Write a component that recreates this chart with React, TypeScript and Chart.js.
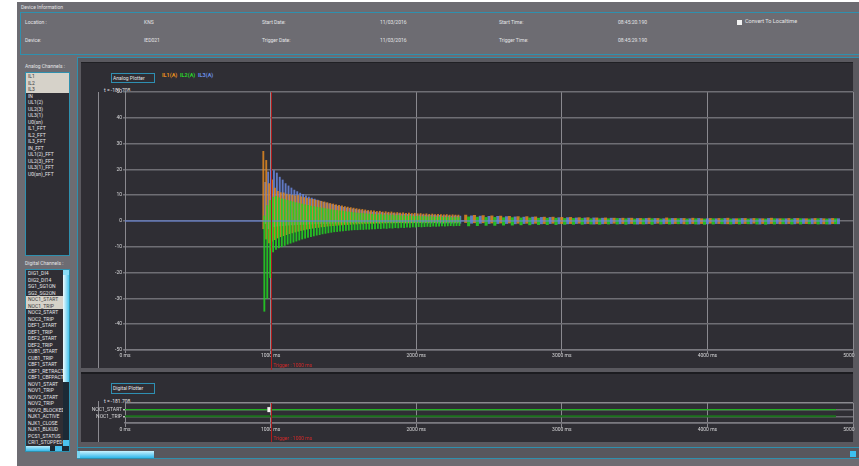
import React, { useEffect, useRef } from 'react';
import { Chart, registerables } from 'chart.js';

Chart.register(...registerables);

// ---------------- data ----------------
const ANALOG_CHANNELS = ['IL1', 'IL2', 'IL3', 'IN', 'UL1(2)', 'UL2(3)', 'UL3(1)', 'U0(sn)', 'IL1_FFT', 'IL2_FFT', 'IL3_FFT', 'IN_FFT', 'UL1(2)_FFT', 'UL2(3)_FFT', 'UL3(1)_FFT', 'U0(sn)_FFT'];
const SELECTED_ANALOG = ['IL1', 'IL2', 'IL3'];
const DIGITAL_CHANNELS = ['DIG1_DI4', 'DIG2_DI14', 'SG1_SG1ON', 'SG2_SG2ON', 'NOC1_START', 'NOC1_TRIP', 'NOC2_START', 'NOC2_TRIP', 'DEF1_START', 'DEF1_TRIP', 'DEF2_START', 'DEF2_TRIP', 'CUB1_START', 'CUB1_TRIP', 'CBF1_START', 'CBF1_RETRACT', 'CBF1_CBFPACT', 'NOV1_START', 'NOV1_TRIP', 'NOV2_START', 'NOV2_TRIP', 'NOV2_BLOCKED', 'NJK1_ACTIVE', 'NJK1_CLOSE', 'NJK1_BLKUD', 'PCS1_STATUS', 'CRI1_STOPPED'];
const SELECTED_DIGITAL = ['NOC1_START', 'NOC1_TRIP'];

const INFO_ROW1_LABELS = ['Location :', 'Start Date:', 'Start Time:'];
const INFO_ROW1_VALUES = ['KNS', '11/03/2016', '08:45:20.190'];
const INFO_ROW2_LABELS = ['Device:', 'Trigger Date:', 'Trigger Time:'];
const INFO_ROW2_VALUES = ['IED021', '11/03/2016', '08:45:29.190'];

const SERIES_NAMES = ['IL1(A)', 'IL2(A)', 'IL3(A)'];
const X_TICKS_MS = [0, 1000, 2000, 3000, 4000, 5000];
const Y_TICKS = [-50, -40, -30, -20, -10, 0, 10, 20, 30, 40, 50];
const TRIGGER_MS = 1000;
const RECORD_END_MS = 4883;
const CURSOR_LABEL = 't = -181.708';

// sampling grid of the per-cycle peak envelope (min..max)
const EARLY_START_MS = 950;
const EARLY_STEP_MS = 20;
const TAIL_START_MS = 2340;
const TAIL_STEP_MS = 60;
const EARLY_OFFSETS_MS = [0, 7, 13];
const TAIL_OFFSETS_MS = [0, 20, 40];

// 950 .. 2290 ms, every 20 ms
const IL1_EARLY_HI = [27, 23.5, 14.5, 16, 12.8, 11.5, 11.0, 10.9, 10.4, 10.2, 10.0, 9.8, 9.9, 9.4, 9.1, 8.9, 8.6, 8.4, 8.1, 7.9, 7.6, 7.4, 7.1, 6.8, 6.6, 6.3, 6.1, 5.9, 5.6, 5.4, 5.2, 5.0, 4.8, 4.6, 4.5, 4.3, 4.1, 4.0,
  3.9, 3.7, 3.8, 3.5, 3.6, 3.4, 3.5, 3.2, 3.3, 3.1, 3.2, 3.0, 3.1, 2.9, 3.0, 2.8, 2.9, 2.7, 2.8, 2.6, 2.7, 2.5, 2.6, 2.5, 2.4, 2.5, 2.3, 2.4, 2.3, 2.3];
const IL1_EARLY_LO = [-3, -7, -8.5, -7.8, -7.2, -6.6, -6.1, -5.7, -5.3, -4.9, -4.6, -4.3, -4.0, -3.7, -3.5, -3.2, -3.0, -2.8, -2.6, -2.5, -2.3, -2.2, -2.0, -1.9, -1.8, -1.7, -1.6, -1.5, -1.4, -1.4, -1.3, -1.2, -1.2, -1.1, -1.1, -1.0, -1.0, -0.9,
  -0.9, -0.8, -0.9, -0.8, -0.8, -0.7, -0.8, -0.7, -0.7, -0.7, -0.6, -0.7, -0.6, -0.7, -0.6, -0.6, -0.6, -0.5, -0.6, -0.6, -0.5, -0.6, -0.5, -0.5, -0.6, -0.5, -0.5, -0.5, -0.6, -0.5];
const IL2_EARLY_HI = [2, 6, 8, 9.2, 9.6, 9.0, 8.6, 8.3, 8.0, 7.7, 7.4, 7.1, 6.8, 6.6, 6.3, 6.1, 5.8, 5.6, 5.4, 5.2, 5.0, 4.8, 4.6, 4.4, 4.2, 4.1, 3.9, 3.8, 3.6, 3.5, 3.4, 3.2, 3.1, 3.0, 2.9, 2.8, 2.7, 2.6,
  2.5, 2.4, 2.5, 2.3, 2.4, 2.2, 2.3, 2.1, 2.2, 2.0, 2.1, 1.9, 2.0, 1.9, 1.8, 1.9, 1.7, 1.8, 1.6, 1.7, 1.6, 1.5, 1.6, 1.5, 1.4, 1.5, 1.4, 1.3, 1.4, 1.3];
const IL2_EARLY_LO = [-35, -30, -22, -12, -11, -10.4, -10.0, -9.5, -9.0, -8.6, -8.2, -7.8, -7.4, -7.0, -6.7, -6.4, -6.1, -5.8, -5.5, -5.3, -5.0, -4.8, -4.6, -4.4, -4.2, -4.1, -3.9, -3.8, -3.7, -3.6, -3.5, -3.4, -3.4, -3.3, -3.3, -3.2, -3.2, -3.1,
  -3.1, -2.9, -3.0, -2.8, -2.9, -2.7, -2.8, -2.6, -2.7, -2.5, -2.6, -2.4, -2.5, -2.3, -2.4, -2.2, -2.3, -2.2, -2.1, -2.2, -2.0, -2.1, -2.0, -1.9, -2.0, -1.9, -1.8, -1.9, -1.8, -1.8];
const IL3_EARLY_HI = [15, 19, 20, 19.5, 18.6, 17, 15.9, 14.5, 13.6, 12.8, 12.0, 11.4, 10.8, 10.3, 9.8, 9.3, 8.9, 8.5, 8.1, 7.7, 7.3, 7.0, 6.7, 6.4, 6.1, 5.8, 5.6, 5.3, 5.1, 4.9, 4.7, 4.5, 4.3, 4.1, 3.9, 3.8, 3.6, 3.5,
  3.4, 3.2, 3.3, 3.0, 3.1, 2.9, 3.0, 2.8, 2.9, 2.7, 2.7, 2.6, 2.6, 2.5, 2.5, 2.4, 2.4, 2.3, 2.3, 2.2, 2.3, 2.1, 2.2, 2.0, 2.1, 2.0, 1.9, 2.0, 1.9, 1.9];
const IL3_EARLY_LO = [-1, -3, -2.5, -2.2, -2.0, -1.9, -1.8, -1.7, -1.6, -1.5, -1.5, -1.4, -1.4, -1.3, -1.3, -1.2, -1.2, -1.1, -1.1, -1.0, -1.0, -1.0, -0.9, -0.9, -0.9, -0.8, -0.8, -0.8, -0.8, -0.7, -0.7, -0.7, -0.7, -0.7, -0.6, -0.6, -0.6, -0.6,
  -0.6, -0.7, -0.6, -0.6, -0.7, -0.6, -0.7, -0.7, -0.6, -0.7, -0.7, -0.8, -0.7, -0.7, -0.8, -0.7, -0.8, -0.7, -0.8, -0.8, -0.7, -0.8, -0.8, -0.9, -0.8, -0.8, -0.9, -0.8, -0.8, -0.9];

// 2340 .. 4860 ms, every 60 ms
const IL1_TAIL_HI = [2.3, 2.2, 2.1, 2.0, 1.9, 1.8, 1.7, 1.7, 1.6, 1.5, 1.5, 1.4, 1.4, 1.3, 1.3, 1.2, 1.2, 1.1, 1.1, 1.1, 1.0, 1.1, 1.0, 1.2, 1.0, 1.0, 1.1, 0.9, 1.0, 1.0, 1.1, 0.9, 1.0, 1.0, 0.9, 1.1, 0.9, 1.0, 1.0, 0.9, 1.0, 0.9, 1.0];
const IL1_TAIL_LO = [-0.6, -0.7, -0.7, -0.8, -0.8, -0.8, -0.9, -0.9, -0.9, -1.0, -0.9, -1.0, -1.0, -0.9, -1.0, -1.1, -1.0, -0.9, -1.0, -1.0, -1.1, -1.0, -0.9, -1.0, -1.0, -1.1, -1.0, -1.0, -0.9, -1.0, -1.1, -1.0, -1.0, -0.9, -1.0, -1.0, -1.1, -1.0, -0.9, -1.0, -1.0, -1.1, -1.0];
const IL2_TAIL_HI = [1.6, 1.5, 1.4, 1.4, 1.3, 1.3, 1.2, 1.2, 1.1, 1.1, 1.1, 1.0, 1.0, 1.0, 0.9, 0.9, 0.9, 1.0, 0.9, 0.8, 0.9, 0.9, 0.8, 0.9, 0.9, 0.8, 0.9, 0.8, 0.9, 0.9, 0.8, 0.9, 0.8, 0.9, 0.8, 0.9, 0.9, 0.8, 0.9, 0.8, 0.9, 0.8, 0.9];
const IL2_TAIL_LO = [-1.9, -1.8, -1.7, -1.7, -1.6, -1.6, -1.5, -1.5, -1.4, -1.4, -1.4, -1.3, -1.3, -1.3, -1.2, -1.3, -1.2, -1.2, -1.3, -1.2, -1.2, -1.3, -1.2, -1.2, -1.1, -1.2, -1.2, -1.3, -1.2, -1.1, -1.2, -1.2, -1.1, -1.2, -1.3, -1.2, -1.1, -1.2, -1.2, -1.1, -1.2, -1.2, -1.1];
const IL3_TAIL_HI = [2.0, 1.9, 1.8, 1.8, 1.7, 1.6, 1.5, 1.5, 1.4, 1.4, 1.3, 1.3, 1.2, 1.2, 1.2, 1.1, 1.1, 1.0, 1.1, 1.0, 1.0, 1.0, 0.9, 1.0, 1.0, 0.9, 1.0, 0.9, 0.9, 1.0, 0.9, 1.0, 0.9, 0.9, 1.0, 0.9, 0.9, 1.0, 0.9, 0.9, 1.0, 0.9, 0.9];
const IL3_TAIL_LO = [-0.9, -0.9, -1.0, -1.0, -1.0, -1.1, -1.0, -1.1, -1.1, -1.0, -1.1, -1.1, -1.0, -1.1, -1.2, -1.1, -1.0, -1.1, -1.1, -1.2, -1.1, -1.0, -1.1, -1.1, -1.0, -1.1, -1.2, -1.1, -1.0, -1.1, -1.1, -1.0, -1.1, -1.2, -1.1, -1.0, -1.1, -1.1, -1.0, -1.1, -1.1, -1.2, -1.1];

const DIGITAL_ROWS = ['NOC1_TRIP', 'NOC1_START']; // bottom to top
const DIGITAL_TRACE_MS = [0, RECORD_END_MS];
const NOC1_START_PULSE_MS = [977, 1000];

// ---------------- styles ----------------
const C_OUTER = '#6d6c72';
const C_GROUP = '#5a595f';
const C_DARK = '#2f2e34';
const C_CYAN = '#2f90ae';
const C_TEXT = '#e4e4e6';
const COL_IL1 = 'rgba(226,136,34,0.85)';
const COL_IL2 = 'rgba(34,214,34,0.85)';
const COL_IL3 = 'rgba(104,134,222,0.85)';
const FONT = 'Roboto, "Noto Sans", sans-serif';

function envPts(hi: number[], lo: number[], start: number, step: number, offset: number) {
  return hi.map((h, i) => ({ x: start + i * step + offset, y: [lo[i], h] }));
}

function triggerPlugin(labelY: number) {
  return {
    id: 'trigger',
    afterDatasetsDraw(chart: any) {
      const { ctx, chartArea } = chart;
      const x = Math.round(chart.scales.x.getPixelForValue(TRIGGER_MS)) + 0.5;
      ctx.save();
      ctx.strokeStyle = '#b31c1c';
      ctx.lineWidth = 1;
      ctx.beginPath();
      ctx.moveTo(x, chartArea.top);
      ctx.lineTo(x, chart.height);
      ctx.stroke();
      ctx.fillStyle = '#d42a2a';
      ctx.font = `5px ${FONT}`;
      ctx.textBaseline = 'middle';
      ctx.fillText(`Trigger : ${TRIGGER_MS} ms`, x + 2, labelY);
      ctx.restore();
    },
  };
}

const tickFont = { family: FONT, size: 5 };

function xScale(tickLen: number, height: number) {
  return {
    type: 'linear',
    min: X_TICKS_MS[0],
    max: X_TICKS_MS[X_TICKS_MS.length - 1],
    offset: false,
    afterBuildTicks: (s: any) => { s.ticks = X_TICKS_MS.map((v) => ({ value: v })); },
    afterFit: (s: any) => { s.height = height; s.paddingLeft = 0; s.paddingRight = 0; },
    ticks: { callback: (v: any) => `${v} ms`, color: '#d6d6d8', font: tickFont, padding: 0, maxRotation: 0, autoSkip: false },
    grid: { color: '#8a898f', lineWidth: 1, tickLength: tickLen, offset: false },
    border: { display: true, color: '#7a797f', width: 1.5 },
  };
}

function barSet(label: string, data: any[], color: string, thickness: number, order: number) {
  return { type: 'bar', label, data, backgroundColor: color, barThickness: thickness, grouped: false, borderWidth: 0, order } as any;
}

function AnalogPlot() {
  const ref = useRef<HTMLCanvasElement>(null);
  useEffect(() => {
    const chart = new Chart(ref.current as HTMLCanvasElement, {
      type: 'line',
      data: {
        datasets: [
          { type: 'line', label: 'IL3 zero', data: [{ x: 0, y: 0 }, { x: RECORD_END_MS, y: 0 }], borderColor: 'rgba(96,128,220,1)', borderWidth: 1, pointRadius: 0, order: 0 } as any,
          barSet(SERIES_NAMES[1], envPts(IL2_EARLY_HI, IL2_EARLY_LO, EARLY_START_MS, EARLY_STEP_MS, EARLY_OFFSETS_MS[1]), COL_IL2, 1.2, 1),
          barSet(SERIES_NAMES[1], envPts(IL2_TAIL_HI, IL2_TAIL_LO, TAIL_START_MS, TAIL_STEP_MS, TAIL_OFFSETS_MS[1]), COL_IL2, 2.4, 1),
          barSet(SERIES_NAMES[0], envPts(IL1_EARLY_HI, IL1_EARLY_LO, EARLY_START_MS, EARLY_STEP_MS, EARLY_OFFSETS_MS[0]), COL_IL1, 1.2, 2),
          barSet(SERIES_NAMES[0], envPts(IL1_TAIL_HI, IL1_TAIL_LO, TAIL_START_MS, TAIL_STEP_MS, TAIL_OFFSETS_MS[0]), COL_IL1, 2.4, 2),
          barSet(SERIES_NAMES[2], envPts(IL3_EARLY_HI, IL3_EARLY_LO, EARLY_START_MS, EARLY_STEP_MS, EARLY_OFFSETS_MS[2]), COL_IL3, 1.2, 3),
          barSet(SERIES_NAMES[2], envPts(IL3_TAIL_HI, IL3_TAIL_LO, TAIL_START_MS, TAIL_STEP_MS, TAIL_OFFSETS_MS[2]), COL_IL3, 2.4, 3),
        ],
      },
      options: {
        animation: false,
        responsive: false,
        devicePixelRatio: 1,
        layout: { padding: { top: 30, right: 2, left: 0, bottom: 0 } },
        plugins: { legend: { display: false }, tooltip: { enabled: false } },
        scales: {
          x: xScale(3, 20) as any,
          y: {
            type: 'linear',
            min: -50,
            max: 50,
            afterBuildTicks: (s: any) => { s.ticks = Y_TICKS.map((v) => ({ value: v })); },
            afterFit: (s: any) => { s.width = 44; s.paddingTop = 0; s.paddingBottom = 0; },
            ticks: { color: '#d6d6d8', font: tickFont, padding: 1, autoSkip: false },
            grid: { color: '#6f6e74', lineWidth: 1.5, tickLength: 2 },
            border: { display: true, color: '#8a898f', width: 1 },
          },
        },
      },
      plugins: [triggerPlugin(304)],
    } as any);
    return () => chart.destroy();
  }, []);
  return <canvas ref={ref} width={774} height={308} style={{ position: 'absolute', left: 81, top: 62, width: 774, height: 308 }} />;
}

function DigitalPlot() {
  const ref = useRef<HTMLCanvasElement>(null);
  useEffect(() => {
    const pulseMid = (NOC1_START_PULSE_MS[0] + NOC1_START_PULSE_MS[1]) / 2;
    const chart = new Chart(ref.current as HTMLCanvasElement, {
      type: 'line',
      data: {
        datasets: [
          { type: 'bar', label: 'pulse', data: [{ x: pulseMid, y: [1.62, 2.38] }], backgroundColor: '#f4f4f0', borderColor: '#a0a0a0', borderWidth: 0.5, barThickness: 3, grouped: false, order: 0 } as any,
          { type: 'line', label: DIGITAL_ROWS[1], data: DIGITAL_TRACE_MS.map((t) => ({ x: t, y: 2 })), borderColor: '#24b024', borderWidth: 1.2, pointRadius: 0, order: 1 } as any,
          { type: 'line', label: DIGITAL_ROWS[0], data: DIGITAL_TRACE_MS.map((t) => ({ x: t, y: 1 })), borderColor: '#1d721d', borderWidth: 2, pointRadius: 0, order: 2 } as any,
        ],
      },
      options: {
        animation: false,
        responsive: false,
        devicePixelRatio: 1,
        layout: { padding: { top: 29, right: 2, left: 0, bottom: 0 } },
        plugins: { legend: { display: false }, tooltip: { enabled: false } },
        scales: {
          x: xScale(4, 19) as any,
          y: {
            type: 'linear',
            min: 0,
            max: 3,
            afterBuildTicks: (s: any) => { s.ticks = [0, 1, 2, 3].map((v) => ({ value: v })); },
            afterFit: (s: any) => { s.width = 44; s.paddingTop = 0; s.paddingBottom = 0; },
            ticks: { color: '#d6d6d8', font: tickFont, padding: 1, autoSkip: false, callback: (v: any) => DIGITAL_ROWS[v - 1] ?? '' },
            grid: {
              color: (c: any) => (c.tick && (c.tick.value === 0 || c.tick.value === 3) ? '#8a898f' : '#6f6e74'),
              tickColor: (c: any) => (c.tick && (c.tick.value === 1 || c.tick.value === 2) ? '#bdbdbd' : 'rgba(0,0,0,0)'),
              lineWidth: 1.5,
              tickLength: 2,
            },
            border: { display: true, color: '#8a898f', width: 1 },
          },
        },
      },
      plugins: [triggerPlugin(65)],
    } as any);
    return () => chart.destroy();
  }, []);
  return <canvas ref={ref} width={774} height={68} style={{ position: 'absolute', left: 81, top: 374, width: 774, height: 68 }} />;
}

function T(props: { x: number; y: number; text: string; size?: number; color?: string; weight?: number }) {
  return (
    <div style={{ position: 'absolute', left: props.x, top: props.y, transform: 'translateY(-50%)', fontSize: props.size ?? 5, lineHeight: 1, color: props.color ?? C_TEXT, whiteSpace: 'nowrap', fontWeight: props.weight ?? 400 }}>
      {props.text}
    </div>
  );
}

function Box(props: { l: number; t: number; w: number; h: number; bg?: string; border?: string; extra?: any; children?: any }) {
  return (
    <div style={{ position: 'absolute', left: props.l, top: props.t, width: props.w, height: props.h, background: props.bg, border: props.border, boxSizing: 'border-box', ...(props.extra || {}) }}>
      {props.children}
    </div>
  );
}

function ListBox(props: { l: number; t: number; w: number; h: number; items: string[]; selected: string[]; textW: number }) {
  return (
    <Box l={props.l} t={props.t} w={props.w} h={props.h} bg={C_DARK} border={`1px solid ${C_CYAN}`} extra={{ overflow: 'hidden' }}>
      <div style={{ position: 'absolute', left: 0, top: 0, width: props.textW, height: '100%', overflow: 'hidden' }}>
        {props.items.map((it, i) => {
          const sel = props.selected.includes(it);
          return (
            <div key={it} style={{ position: 'absolute', left: 0, top: i * 6.5, width: props.textW, height: 6.5, background: sel ? '#d6d2c9' : 'transparent', color: sel ? '#3a3a3c' : C_TEXT, fontSize: 5, lineHeight: '6.5px', paddingLeft: 2, whiteSpace: 'nowrap', boxSizing: 'border-box' }}>
              {it}
            </div>
          );
        })}
      </div>
    </Box>
  );
}

export default function App() {
  const infoCols = [25, 262, 499];
  const valueCols = [144, 380, 618];
  return (
    <div style={{ position: 'fixed', left: 0, top: 0, width: 859, height: 466, background: '#ffffff', overflow: 'hidden', fontFamily: FONT }}>
      <Box l={17} t={2} w={842} h={464} bg={C_OUTER} />

      {/* device information */}
      <T x={21} y={7} text="Device Information" />
      <Box l={20} t={12} w={850} h={43} border={`1px solid ${C_CYAN}`} />
      {INFO_ROW1_LABELS.map((s, i) => <T key={'l1' + i} x={infoCols[i]} y={22} text={s} />)}
      {INFO_ROW1_VALUES.map((s, i) => <T key={'v1' + i} x={valueCols[i]} y={22} text={s} />)}
      {INFO_ROW2_LABELS.map((s, i) => <T key={'l2' + i} x={infoCols[i]} y={40} text={s} />)}
      {INFO_ROW2_VALUES.map((s, i) => <T key={'v2' + i} x={valueCols[i]} y={40} text={s} />)}
      <Box l={737} t={19.5} w={5} h={5} bg="#f2f2f2" />
      <T x={745} y={22} text="Convert To Localtime" size={5.5} />

      {/* left channel lists */}
      <T x={25} y={66} text="Analog Channels :" />
      <ListBox l={25} t={72} w={45} h={184} items={ANALOG_CHANNELS} selected={SELECTED_ANALOG} textW={43} />
      <T x={25} y={263} text="Digital Channels :" />
      <ListBox l={25} t={269} w={45} h={183} items={DIGITAL_CHANNELS} selected={SELECTED_DIGITAL} textW={38} />
      <Box l={63} t={270} w={6} h={176} bg="#1c2a36" />
      <Box l={63} t={270} w={6} h={5} bg="#8adcf6" />
      <Box l={63} t={275} w={6} h={107} bg="linear-gradient(to right, #f0fcff, #48c4ee)" />
      <Box l={63} t={440} w={6} h={6} bg="#4cc2ee" />
      <Box l={26} t={446} w={43} h={5} bg="#1c2a36" />
      <Box l={26} t={446} w={24} h={5} bg="linear-gradient(#b8ecfb, #38b8ea)" />
      <Box l={55} t={446} w={7} h={5} bg="#48c0ee" />

      {/* chart group */}
      <Box l={77} t={57} w={800} h={402} bg={C_GROUP} border={`1px solid ${C_CYAN}`} />
      <Box l={81} t={62} w={772} h={306} bg={C_DARK} extra={{ borderTop: '1px solid #202024' }} />
      <Box l={81} t={372} w={772} h={70} bg={C_DARK} extra={{ borderTop: '2px solid #1c1c20' }} />

      {/* analog overlays */}
      <Box l={98} t={92} w={1} h={276} bg="#8b8a90" />
      <Box l={111} t={72.5} w={44} h={10.5} border="1px solid #2e8fb2" />
      <T x={113} y={77.5} text="Analog Plotter" />
      <T x={162} y={76} text={SERIES_NAMES[0]} size={5.5} color="#e8901e" weight={700} />
      <T x={180} y={76} text={SERIES_NAMES[1]} size={5.5} color="#2ad42a" weight={700} />
      <T x={198} y={76} text={SERIES_NAMES[2]} size={5.5} color="#6a8ee6" weight={700} />
      <T x={104} y={90} text={CURSOR_LABEL} />
      <AnalogPlot />

      {/* digital overlays */}
      <Box l={98} t={401} w={1} h={41} bg="#8b8a90" />
      <Box l={111} t={383} w={44} h={10.5} border="1px solid #2e8fb2" />
      <T x={113} y={388} text="Digital Plotter" />
      <T x={104} y={401} text={CURSOR_LABEL} />
      <DigitalPlot />

      {/* bottom scrollbar */}
      <Box l={77} t={447} w={790} h={1} bg={C_CYAN} />
      <Box l={78} t={448} w={790} h={10} bg="#58575d" />
      <Box l={77} t={451} w={3} h={7} bg="#7ad6f4" />
      <Box l={80} t={451} w={74} h={7} bg="linear-gradient(#c8f2ff, #2fb6ea)" />
      <Box l={850} t={451} w={6} h={6} bg="#3cc0f0" />
      <Box l={77} t={458} w={790} h={1} bg={C_CYAN} />
    </div>
  );
}
